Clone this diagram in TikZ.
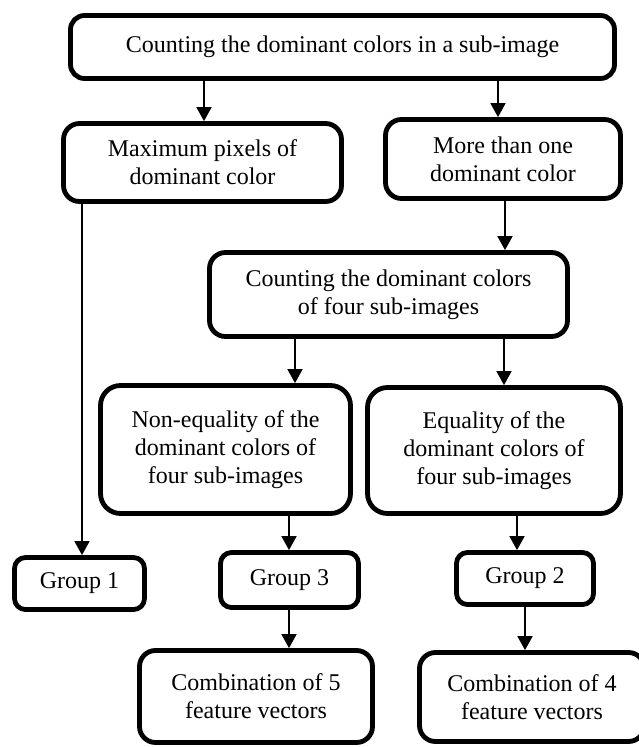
\documentclass[tikz,border=0pt]{standalone}
\usepackage{fontspec}
\setmainfont{Liberation Serif}
\usetikzlibrary{arrows.meta}
\tikzset{
  box/.style={draw, line width=4.8pt, rounded corners=16pt, align=center, inner sep=0pt,
    font=\fontsize{24}{28.3}\selectfont},
  smallbox/.style={box, rounded corners=11pt},
  arr/.style={line width=1.8pt, -{Triangle[width=15pt,length=14pt]}},
  plain/.style={line width=1.8pt}
}
\begin{document}
\begin{tikzpicture}[x=1pt,y=-1pt]
\clip (0,0) rectangle (639,747);
\fill[white] (0,0) rectangle (639,747);
\node[box, minimum width=544pt, minimum height=63pt, rounded corners=14pt] (top) at (342.5,47)
  {Counting the dominant colors in a sub-image};
\node[box, minimum width=278pt, minimum height=78pt] (max) at (202.5,162.5)
  {Maximum pixels of\\dominant color};
\node[box, minimum width=235pt, minimum height=79pt] (more) at (503,159)
  {More than one\\dominant color};
\node[box, minimum width=358pt, minimum height=84pt] (cnt) at (388.5,294.5)
  {Counting the dominant colors\\of four sub-images};
\node[box, minimum width=250pt, minimum height=128pt, rounded corners=20pt] (neq) at (225.5,449.5)
  {Non-equality of the\\dominant colors of\\four sub-images};
\node[box, minimum width=253pt, minimum height=126pt, rounded corners=20pt] (eq) at (494,450.5)
  {Equality of the\\dominant colors of\\four sub-images};
\node[smallbox, minimum width=130pt, minimum height=52pt] (g1) at (79.5,583.5) {Group 1};
\node[smallbox, minimum width=138pt, minimum height=55pt] (g3) at (289.5,580) {Group 3};
\node[smallbox, minimum width=137pt, minimum height=52pt] (g2) at (525,578.5) {Group 2};
\node[box, minimum width=233pt, minimum height=92pt] (c5) at (256,696.5)
  {Combination of 5\\feature vectors};
\node[box, minimum width=225pt, minimum height=89pt] (c4) at (532,697)
  {Combination of 4\\feature vectors};
\coordinate (xa) at (204,0);
\coordinate (xb) at (498,0);
\coordinate (xc) at (505,0);
\coordinate (xd) at (295,0);
\coordinate (xe) at (504,0);
\coordinate (xf) at (289,0);
\coordinate (xg) at (517,0);
\coordinate (xh) at (289,0);
\coordinate (xi) at (525,0);
\coordinate (xj) at (82,0);
\draw[arr] (top.south -| xa) -- (max.north -| xa);
\draw[arr] (top.south -| xb) -- (more.north -| xb);
\draw[arr] (more.south -| xc) -- (cnt.north -| xc);
\draw[arr] (cnt.south -| xd) -- (neq.north -| xd);
\draw[arr] (cnt.south -| xe) -- (eq.north -| xe);
\draw[arr] (neq.south -| xf) -- (g3.north -| xf);
\draw[arr] (eq.south -| xg) -- (g2.north -| xg);
\draw[arr] (g3.south -| xh) -- (c5.north -| xh);
\draw[arr] (g2.south -| xi) -- (c4.north -| xi);
\draw[arr] ([yshift=3pt]max.south -| xj) -- (g1.north -| xj);
\end{tikzpicture}
\end{document}
